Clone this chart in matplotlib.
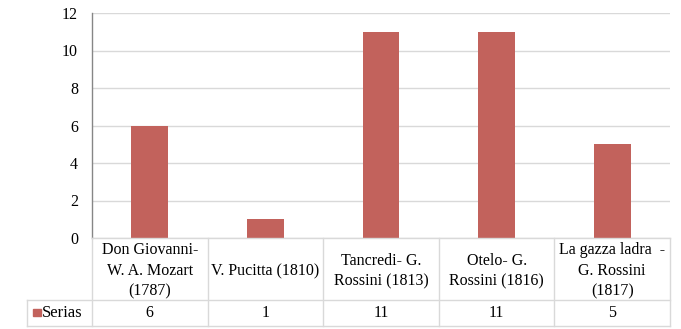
import matplotlib
matplotlib.use("Agg")
import matplotlib.pyplot as plt
from matplotlib.lines import Line2D
from matplotlib.patches import Rectangle

categories = ["Don Giovanni-\nW. A. Mozart\n(1787)", "V. Pucitta (1810)",
              "Tancredi- G.\nRossini (1813)", "Otelo- G.\nRossini (1816)",
              "La gazza ladra  -\nG. Rossini\n(1817)"]
series_name = "Serias"
values = [6, 1, 11, 11, 5]
yticks = [0, 2, 4, 6, 8, 10, 12]

W, H = 681, 329
plt.rcParams['font.family'] = ['Liberation Serif', 'DejaVu Serif']
fig = plt.figure(figsize=(W/100, H/100), dpi=100)

def fx(px): return px / W
def fy(py): return 1 - py / H

left, right, top, bottom = 92, 670, 13, 238
ax = fig.add_axes([fx(left), fy(bottom), fx(right) - fx(left), fy(top) - fy(bottom)])
bar_color = "#C2625C"
n = len(values)
ax.bar(range(n), values, width=0.32, color=bar_color, zorder=3)
ax.set_xlim(-0.5, n - 0.5)
ax.set_ylim(0, 12)
ax.set_yticks(yticks)
ax.set_yticklabels([str(t) for t in yticks], fontsize=11.5)
ax.set_xticks([])
ax.tick_params(axis='y', length=0, pad=10)
ax.grid(axis='y', color="#D9D9D9", linewidth=1, zorder=0)
for s in ['top', 'right', 'bottom']:
    ax.spines[s].set_visible(False)
ax.spines['left'].set_color("#868686")
ax.spines['left'].set_linewidth(1)

# data table
row1, row2, tbl_left = 300, 326, 27
lc = "#D9D9D9"
cw = (right - left) / n
def hline(y, x0, x1):
    fig.add_artist(Line2D([fx(x0), fx(x1)], [fy(y), fy(y)], color=lc, lw=1))
def vline(x, y0, y1):
    fig.add_artist(Line2D([fx(x), fx(x)], [fy(y0), fy(y1)], color=lc, lw=1))

hline(bottom, left, right)
hline(row1, tbl_left, right)
hline(row2, tbl_left, right)
vline(tbl_left, row1, row2)
for i in range(n + 1):
    vline(left + i * cw, bottom, row2)

for i, (c, v) in enumerate(zip(categories, values)):
    cx = left + (i + 0.5) * cw
    fig.text(fx(cx), fy(271), c, ha='center', va='center',
             fontsize=11.5, linespacing=1.4)
    fig.text(fx(cx), fy(313), str(v), ha='center', va='center',
             fontsize=11.5)

fig.add_artist(Rectangle((fx(33), fy(316)), fx(8), 7 / H, color=bar_color))
fig.text(fx(42), fy(313), series_name, ha='left', va='center', fontsize=12)

fig.savefig("out.png", dpi=100)
